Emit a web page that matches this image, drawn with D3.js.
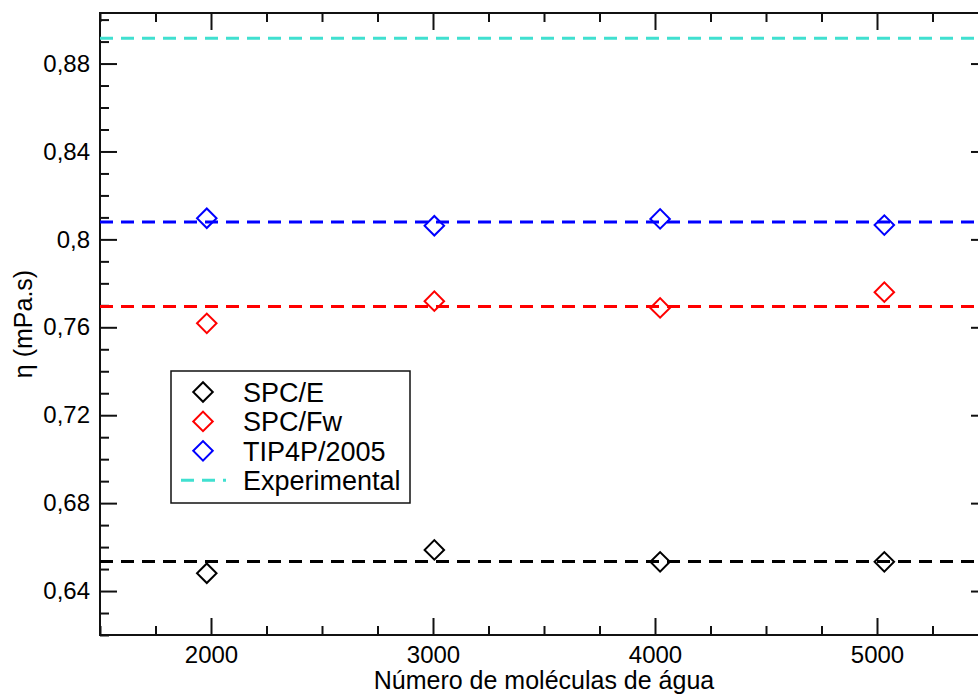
<!DOCTYPE html>
<html>
<head>
<meta charset="utf-8">
<script src="https://cdn.jsdelivr.net/npm/d3@7"></script>
<style>
  body { margin: 0; background: #fff; }
  svg { font-family: "Liberation Sans", Arial, Helvetica, sans-serif; }
</style>
</head>
<body>
<div id="chart"></div>
<script>
// values
const molecules = [1981, 3006, 4023, 5033];
const spce = [0.6481, 0.6587, 0.6533, 0.6533];
const spcfw = [0.7618, 0.7719, 0.7688, 0.7760];
const tip4p = [0.8096, 0.8062, 0.8093, 0.8065];
const seriesNames = ["SPC/E", "SPC/Fw", "TIP4P/2005", "Experimental"];
const meanValues = [0.6534, 0.7695, 0.8079, 0.8915]; // dashed horizontal lines
const xTicks = [2000, 3000, 4000, 5000];
const yTicks = [0.64, 0.68, 0.72, 0.76, 0.80, 0.84, 0.88];

const colors = ["#000000", "#ff0000", "#0000ff", "#40e0d0"];

var width = 978, height = 695;
// plot box (right edge lies just past the window, as in the original)
var pLeft = 100, pRight = 988, pTop = 13, pBottom = 635;

var svg = d3.select("#chart").append("svg").attr("width", width).attr("height", height);

var x = d3.scaleLinear().domain([1500, 5500]).range([pLeft, pRight]);
var y = d3.scaleLinear().domain([0.62, 0.903]).range([pBottom, pTop]);

var xMinor = d3.range(1500, 5501, 250).filter(function (d) { return d % 1000 != 0; });
var yMinor = d3.range(62, 91, 1).filter(function (d) { return d % 4 != 0; })
  .map(function (d) { return d / 100; });

var fmt = function (d) { return d3.format(".2~f")(d).replace(".", ","); };

function styleAxis(g) {
  g.selectAll(".domain").remove();
  g.selectAll(".tick line").attr("stroke", "#111").attr("stroke-width", 2);
  g.selectAll(".tick text").attr("fill", "#000").attr("font-size", 24);
}

// bottom
svg.append("g").attr("transform", "translate(0," + pBottom + ")")
  .call(d3.axisBottom(x).tickValues(xTicks).tickSizeInner(-17).tickPadding(11).tickFormat(d3.format("d")))
  .call(styleAxis);
svg.append("g").attr("transform", "translate(0," + pBottom + ")")
  .call(d3.axisBottom(x).tickValues(xMinor).tickSize(-9).tickFormat(""))
  .call(styleAxis);
// top
svg.append("g").attr("transform", "translate(0," + pTop + ")")
  .call(d3.axisTop(x).tickValues(xTicks).tickSize(-17).tickFormat(""))
  .call(styleAxis);
svg.append("g").attr("transform", "translate(0," + pTop + ")")
  .call(d3.axisTop(x).tickValues(xMinor).tickSize(-9).tickFormat(""))
  .call(styleAxis);
// left
svg.append("g").attr("transform", "translate(" + pLeft + ",0)")
  .call(d3.axisLeft(y).tickValues(yTicks).tickSizeInner(-17).tickPadding(10).tickFormat(fmt))
  .call(styleAxis);
svg.append("g").attr("transform", "translate(" + pLeft + ",0)")
  .call(d3.axisLeft(y).tickValues(yMinor).tickSize(-9).tickFormat(""))
  .call(styleAxis);
// right
svg.append("g").attr("transform", "translate(" + pRight + ",0)")
  .call(d3.axisRight(y).tickValues(yTicks).tickSize(-17).tickFormat(""))
  .call(styleAxis);
svg.append("g").attr("transform", "translate(" + pRight + ",0)")
  .call(d3.axisRight(y).tickValues(yMinor).tickSize(-9).tickFormat(""))
  .call(styleAxis);

// frame
svg.append("rect")
  .attr("x", pLeft).attr("y", pTop)
  .attr("width", pRight - pLeft).attr("height", pBottom - pTop)
  .attr("fill", "none").attr("stroke", "#111").attr("stroke-width", 2);

// points
var diamond = d3.symbol().type(d3.symbolSquare).size(190);
[spce, spcfw, tip4p].forEach(function (vals, i) {
  svg.append("g").selectAll("path")
    .data(vals)
    .join("path")
    .attr("d", diamond)
    .attr("transform", function (d, j) { return "translate(" + x(molecules[j]) + "," + y(d) + ") rotate(45)"; })
    .attr("fill", "none")
    .attr("stroke", colors[i])
    .attr("stroke-width", 2);
});

// dashed mean lines
var lineFunc = d3.line().x(function (d) { return x(d[0]) }).y(function (d) { return y(d[1]) });
meanValues.forEach(function (v, i) {
  svg.append("path")
    .attr("d", lineFunc([[1500, v], [5500, v]]))
    .attr("stroke", colors[i])
    .attr("stroke-width", 3)
    .attr("stroke-dasharray", "13,8")
    .attr("fill", "none");
});

// axis titles
svg.append("text")
  .attr("x", (pLeft + pRight) / 2).attr("y", 689)
  .attr("text-anchor", "middle").attr("font-size", 25)
  .text("Número de moléculas de água");
svg.append("text")
  .attr("transform", "translate(32," + ((pTop + pBottom) / 2) + ") rotate(-90)")
  .attr("text-anchor", "middle").attr("font-size", 25)
  .text("η (mPa.s)");

// legend
var legend = svg.append("g");
legend.append("rect")
  .attr("x", 171).attr("y", 371).attr("width", 239).attr("height", 132)
  .attr("fill", "#fff").attr("stroke", "#111").attr("stroke-width", 1.5);
seriesNames.forEach(function (name, i) {
  var cy = 392 + i * 29.4;
  if (i < 3) {
    legend.append("path")
      .attr("d", diamond)
      .attr("transform", "translate(203," + cy + ") rotate(45)")
      .attr("fill", "none").attr("stroke", colors[i]).attr("stroke-width", 2);
  } else {
    legend.append("path")
      .attr("d", "M181," + cy + "H226")
      .attr("stroke", colors[i]).attr("stroke-width", 3)
      .attr("stroke-dasharray", "13,8");
  }
  legend.append("text")
    .attr("x", 243).attr("y", cy)
    .attr("dy", "0.36em")
    .attr("font-size", 27)
    .text(name);
});
</script>
</body>
</html>
